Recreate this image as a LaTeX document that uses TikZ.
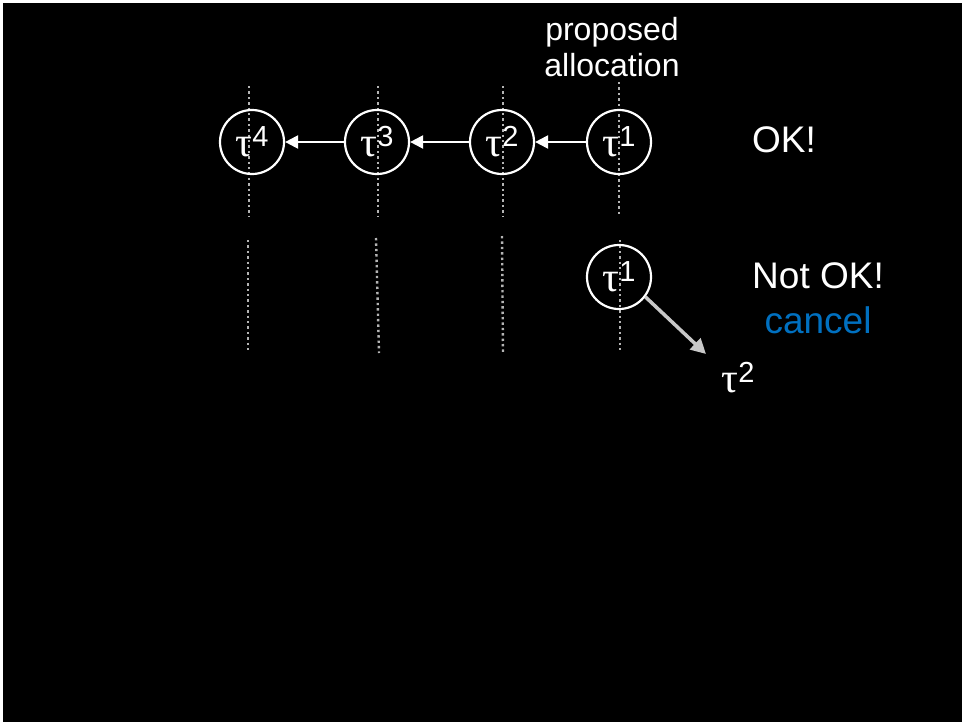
\documentclass[tikz,border=0pt]{standalone}
\usepackage{fontspec}
\setmainfont{Liberation Sans}
\newfontfamily\greekfont{Liberation Serif}
\usetikzlibrary{arrows.meta}
\definecolor{dotgray}{HTML}{B4B4B4}
\definecolor{arrowgray}{HTML}{C8C8C8}
\definecolor{cancelblue}{HTML}{0070C0}
\newcommand{\tauvar}[1]{{\fontsize{42}{44}\greekfont τ}\raisebox{10pt}{\fontsize{29}{30}\selectfont #1}}
\begin{document}
\begin{tikzpicture}[x=1pt,y=-1pt,
  taskcircle/.style={circle,draw=white,line width=2.2pt,minimum size=64pt,inner sep=0pt,text=white,fill=none},
  guide/.style={dotgray,line width=2.4pt,dash pattern=on 2.4pt off 3pt},
  linkarrow/.style={white,line width=2.2pt,-{Triangle[length=13pt,width=13pt]}},
  label/.style={text=white,inner sep=0pt,font=\fontsize{37}{40}\selectfont}]
  % page and black background
  \fill[white] (0,0) rectangle (963,723);
  \fill[black] (3,3) rectangle (962,722);
  \useasboundingbox (0,0) rectangle (963,723);

  % dotted time guides
  \draw[guide] (249,86) -- (249,216);
  \draw[guide] (378,86) -- (378,216);
  \draw[guide] (503,86) -- (503,216);
  \draw[guide] (619,82) -- (619,216);
  \draw[guide] (248,240) -- (248,353);
  \draw[guide] (376,238) -- (379,353);
  \draw[guide] (502,236) -- (503,353);
  \draw[guide] (620,240) -- (620,353);

  % header
  \node[text=white,align=center,font=\fontsize{32}{36}\selectfont] (head) at (612,47) {proposed\\allocation};

  % accepted chain
  \node[taskcircle] (t4) at (252,142) {\tauvar{4}};
  \node[taskcircle] (t3) at (377,142) {\tauvar{3}};
  \node[taskcircle] (t2) at (502,142) {\tauvar{2}};
  \node[taskcircle] (t1) at (619,142) {\tauvar{1}};
  \draw[linkarrow] (t1) -- (t2);
  \draw[linkarrow] (t2) -- (t3);
  \draw[linkarrow] (t3) -- (t4);
  \node[label] (ok) at (784,140) {OK!};

  % rejected proposal
  \node[taskcircle] (r1) at (619,277) {\tauvar{1}};
  \node[text=white,inner sep=0pt] (r2) at (738,378) {\tauvar{2}};
  \coordinate (rtip) at (706,354);
  \draw[arrowgray,line width=3.5pt,-{Triangle[length=15pt,width=15pt]}] (r1.-37) -- (rtip);
  \node[label] (notok) at (818,276) {Not OK!};
  \node[label,text=cancelblue] (cancel) at (818,320) {cancel};
\end{tikzpicture}
\end{document}
